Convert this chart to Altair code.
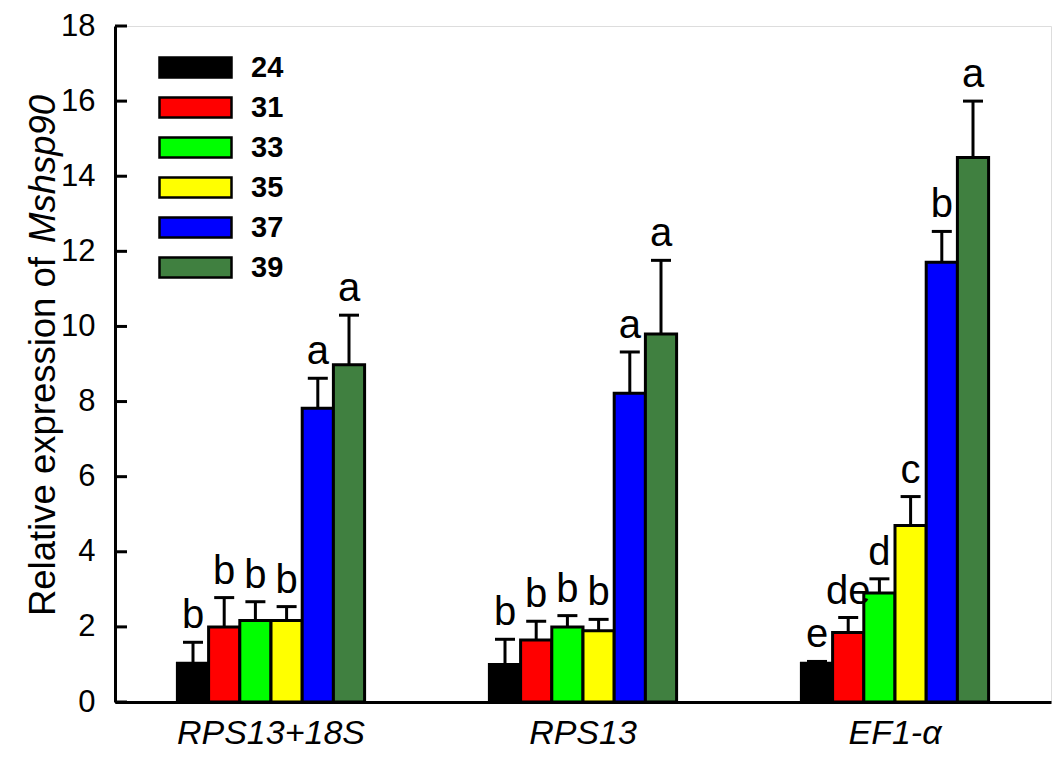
import altair as alt
import pandas as pd

genes = ["RPS13+18S", "RPS13", "EF1-α"]
temps = ["24", "31", "33", "35", "37", "39"]
colors = ["#000000", "#FF0000", "#00FF00", "#FFFF00", "#0000FF", "#408040"]

mean_rps13_18s = [1.03, 2.0, 2.17, 2.17, 7.82, 8.98]
se_rps13_18s = [0.56, 0.78, 0.5, 0.37, 0.8, 1.32]
mean_rps13 = [1.0, 1.65, 2.0, 1.9, 8.22, 9.8]
se_rps13 = [0.67, 0.5, 0.3, 0.3, 1.1, 1.96]
mean_ef1a = [1.03, 1.85, 2.9, 4.7, 11.71, 14.5]
se_ef1a = [0.05, 0.4, 0.38, 0.77, 0.82, 1.5]

letters_rps13_18s = ["b", "b", "b", "b", "a", "a"]
letters_rps13 = ["b", "b", "b", "b", "a", "a"]
letters_ef1a = ["e", "de", "d", "c", "b", "a"]

y_ticks = [0, 2, 4, 6, 8, 10, 12, 14, 16, 18]

rows = []
for g, means, ses, lets in [
    (genes[0], mean_rps13_18s, se_rps13_18s, letters_rps13_18s),
    (genes[1], mean_rps13, se_rps13, letters_rps13),
    (genes[2], mean_ef1a, se_ef1a, letters_ef1a),
]:
    for t, m, s, l in zip(temps, means, ses, lets):
        rows.append({"gene": g, "temp": t, "mean": m, "upper": m + s, "letter": l})
df = pd.DataFrame(rows)

FONT = "Liberation Sans"

x_enc = alt.X("gene:N", sort=genes,
              scale=alt.Scale(paddingInner=0.4, paddingOuter=0.2),
              axis=alt.Axis(title=None, labelFont=FONT, labelFontSize=34,
                            labelFontStyle="italic", labelColor="black",
                            labelAngle=0, ticks=False, labelPadding=14,
                            labelLimit=0,
                            domainColor="black", domainWidth=3))
xoff_enc = alt.XOffset("temp:N", sort=temps,
                       scale=alt.Scale(paddingInner=0, paddingOuter=0))
y_scale = alt.Scale(domain=[0, 18], nice=False)

base = alt.Chart(df)

bars = base.mark_bar(stroke="black", strokeWidth=3).encode(
    x=x_enc,
    xOffset=xoff_enc,
    y=alt.Y("mean:Q", scale=y_scale,
            axis=alt.Axis(title=None, values=y_ticks, grid=False, ticks=False,
                          labelFont=FONT, labelFontSize=31, labelColor="black",
                          labelPadding=20, domainColor="black", domainWidth=3)),
    fill=alt.Fill("temp:N", sort=temps,
                  scale=alt.Scale(domain=temps, range=colors),
                  legend=alt.Legend(
                      title=None, orient="none", legendX=59, legendY=20,
                      symbolType="M-1.8,-0.5H1.8V0.5H-1.8Z", symbolSize=1600,
                      symbolStrokeColor="black", symbolStrokeWidth=2.5,
                      symbolOpacity=1, symbolFillColor="black",
                      labelFont=FONT, labelFontSize=29, labelFontWeight="bold",
                      labelColor="black", labelOffset=34, rowPadding=3,
                      padding=0)),
)

err = base.mark_rule(color="black", strokeWidth=3).encode(
    x=alt.X("gene:N", sort=genes),
    xOffset=alt.XOffset("temp:N", sort=temps),
    y=alt.Y("mean:Q", scale=y_scale),
    y2="upper:Q",
)

caps = base.mark_tick(color="black", thickness=3, size=20, opacity=1).encode(
    x=alt.X("gene:N", sort=genes),
    xOffset=alt.XOffset("temp:N", sort=temps),
    y=alt.Y("upper:Q", scale=y_scale),
)

labels = base.mark_text(font=FONT, fontSize=40, color="black",
                        baseline="alphabetic", dy=-14).encode(
    x=alt.X("gene:N", sort=genes),
    xOffset=alt.XOffset("temp:N", sort=temps),
    y=alt.Y("upper:Q", scale=y_scale),
    text="letter:N",
)

tick_df = pd.DataFrame({"v": y_ticks})
inner_ticks = alt.Chart(tick_df).mark_rule(color="black", strokeWidth=3).encode(
    x=alt.value(0), x2=alt.value(12),
    y=alt.Y("v:Q", scale=y_scale),
)

title1 = alt.Chart(pd.DataFrame({"t": ["Relative expression of"]})).mark_text(
    font=FONT, fontSize=36.5, color="black", angle=270, align="right",
    baseline="alphabetic").encode(
    x=alt.value(-60), y=alt.value(231), text="t:N")
title2 = alt.Chart(pd.DataFrame({"t": ["Mshsp90"]})).mark_text(
    font=FONT, fontSize=36.5, color="black", angle=270, align="left",
    baseline="alphabetic", fontStyle="italic").encode(
    x=alt.value(-60), y=alt.value(217), text="t:N")

chart = alt.layer(bars, err, caps, labels, inner_ticks, title1, title2).properties(
    width=936, height=676,
    autosize=alt.AutoSizeParams(type="none"),
    padding={"left": 107, "top": 18, "right": 4, "bottom": 49},
).configure_view(stroke="black", strokeWidth=3).configure(background="white")

chart.save("out.html", embed_options={"renderer": "svg", "actions": False})
